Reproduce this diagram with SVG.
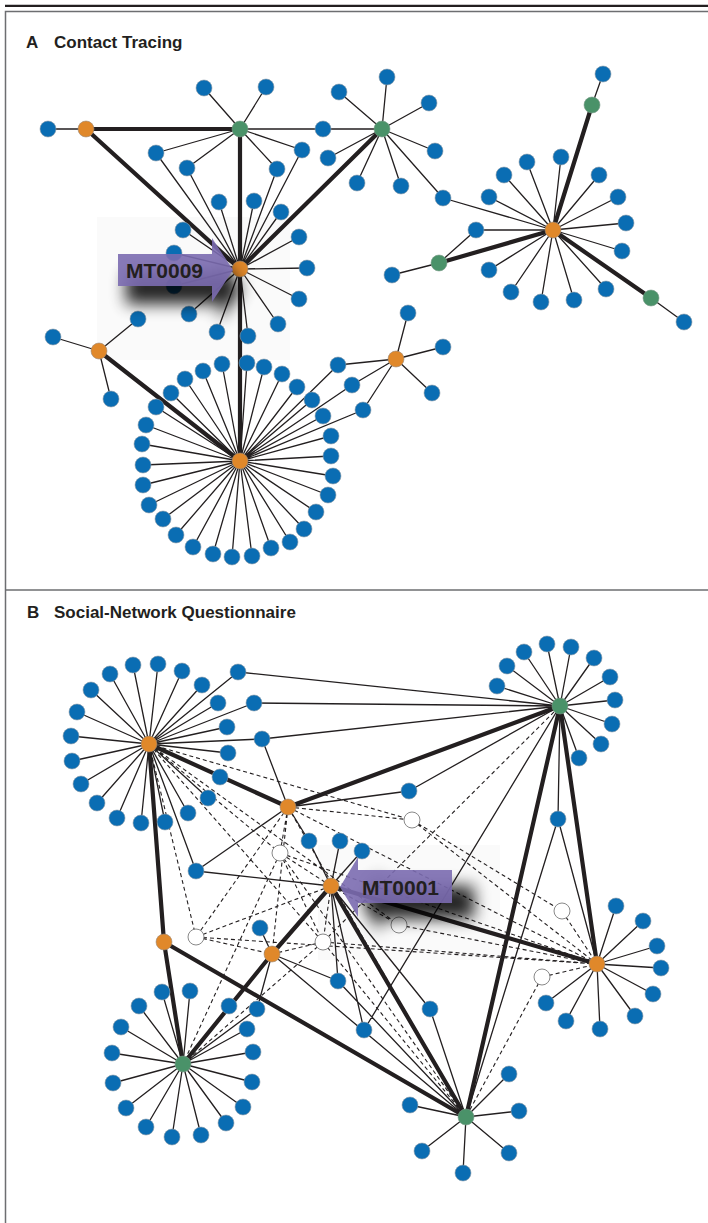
<svg xmlns="http://www.w3.org/2000/svg" width="708" height="1223" viewBox="0 0 708 1223">
<style>
.t{stroke:#231f20;stroke-width:1.3;fill:none}
.k{stroke:#231f20;stroke-width:4.2;fill:none}
.d{stroke:#231f20;stroke-width:1.1;stroke-dasharray:4 3;fill:none}
.b{fill:#0a6db3;stroke:#8d9aa6;stroke-width:.6}
.o{fill:#e0882a;stroke:#9a8a7a;stroke-width:.6}
.g{fill:#4a9269;stroke:#7a9a88;stroke-width:.6}
.h{fill:#fff;stroke:#7a7a7a;stroke-width:.9}
.ttl{font-family:"Liberation Sans",Arial,sans-serif;font-weight:bold;font-size:17px;fill:#231f20}
.lbl{font-family:"Liberation Sans",Arial,sans-serif;font-weight:bold;font-size:21px;fill:#231f20}
.arr{fill:#7b6bb0;opacity:.9}
.shd{fill:#000;opacity:.85;filter:url(#blur)}
</style>
<defs>
<filter id="blur" x="-60%" y="-80%" width="220%" height="260%"><feGaussianBlur stdDeviation="8"/></filter>
</defs>
<rect x="0" y="0" width="708" height="1223" fill="#fff"/>
<g id="frame">
<line x1="5" y1="5.8" x2="708" y2="5.8" stroke="#231f20" stroke-width="2.2"/>
<rect x="5.5" y="11.5" width="710" height="1220" fill="none" stroke="#6d6e71" stroke-width="1.5"/>
<line x1="5" y1="590" x2="708" y2="590" stroke="#6d6e71" stroke-width="1.5"/>
<rect x="97" y="217" width="193" height="143" fill="#fafafa"/>
<rect x="318" y="845" width="182" height="115" fill="#fafafa"/>
</g>
<g id="titles">
<text class="ttl" x="26" y="48">A</text>
<text class="ttl" x="54" y="48">Contact Tracing</text>
<text class="ttl" x="27" y="618">B</text>
<text class="ttl" x="54" y="618">Social-Network Questionnaire</text>
</g>
<g id="connectors">
<path class="t" d="M86,129L48,129
M240,129L204,88M240,129L266,87M240,129L323,129M240,129L156,153M240,129L187,168M240,129L277,169M240,129L302,150
M382,129L323,129M382,129L339,92M382,129L387,77M382,129L429,103M382,129L435,151M382,129L401,186M382,129L357,183M382,129L328,158M382,129L443,198
M240,269L156,153M240,269L187,168M240,269L277,169M240,269L302,150M240,269L219,202M240,269L254,201M240,269L281,212M240,269L183,230M240,269L299,237M240,269L174,253M240,269L307,268M240,269L174,286M240,269L299,299M240,269L189,314M240,269L217,332M240,269L248,336M240,269L278,324
M553,230L443,198M553,230L527,162M553,230L561,157M553,230L504,175M553,230L599,175M553,230L489,197M553,230L618,197M553,230L626,223M553,230L476,230M553,230L622,251M553,230L489,270M553,230L511,292M553,230L541,302M553,230L574,300M553,230L606,289
M592,105L603,74M439,263L476,230M439,263L392,275M651,298L684,322
M99,351L53,337M99,351L138,319M99,351L111,399
M396,359L408,313M396,359L443,347M396,359L432,393M396,359L338,365M396,359L352,385M396,359L363,410
M240,461L338,365M240,461L352,385M240,461L363,410
M240,461L222,364M240,461L247,363M240,461L264,367M240,461L282,374M240,461L297,387M240,461L312,400M240,461L323,416M240,461L331,436M240,461L331,456M240,461L333,476M240,461L328,495M240,461L316,512M240,461L304,529M240,461L290,542M240,461L271,548M240,461L252,556M240,461L232,557M240,461L213,554M240,461L193,547M240,461L176,535M240,461L163,519M240,461L149,505M240,461L143,485M240,461L143,465M240,461L142,444M240,461L146,425M240,461L156,407M240,461L171,393M240,461L185,379M240,461L203,371"/>
<path class="k" d="M86,129L240,129M86,129L240,269M240,129L240,269M382,129L240,269M240,269L240,461M99,351L240,461M553,230L592,105M553,230L439,263M553,230L651,298"/>
<path class="d" d="M149,744L280,853M149,744L412,820M149,744L196,937M149,744L399,925M149,744L323,942
M288,807L280,853M288,807L412,820M288,807L196,937M288,807L272,954M288,807L597,964M288,807L466,1117
M331,886L280,853M331,886L196,937M331,886L323,942M331,886L399,925
M280,853L323,942M280,853L183,1064M280,853L466,1117M280,853L597,964
M196,937L272,954M196,937L597,964
M323,942L272,954M323,942L560,706M323,942L466,1117M323,942L183,1064M323,942L597,964
M399,925L597,964M412,820L562,911M412,820L597,964M562,911L597,964M542,977L597,964M542,977L466,1117"/>
<path class="t" d="M149,744L133,665M149,744L158,664M149,744L182,671M149,744L110,674M149,744L202,685M149,744L91,690M149,744L238,672M149,744L218,703M149,744L254,703M149,744L77,712M149,744L227,727M149,744L71,736M149,744L262,739M149,744L228,753M149,744L72,761M149,744L81,784M149,744L208,798M149,744L97,803M149,744L188,813M149,744L117,818M149,744L141,823M149,744L165,822M149,744L196,871
M560,706L238,672M560,706L254,703M560,706L262,739M560,706L409,791M560,706L558,819M560,706L364,1030
M560,706L497,686M560,706L507,666M560,706L524,652M560,706L547,644M560,706L571,647M560,706L594,658M560,706L610,677M560,706L615,700M560,706L612,724M560,706L601,744M560,706L579,758
M288,807L262,739M288,807L409,791M288,807L196,871M288,807L309,841
M331,886L309,841M331,886L340,841M331,886L362,851M331,886L196,871M331,886L338,981M331,886L364,1030M331,886L430,1009
M272,954L260,928M272,954L338,981M272,954L257,1009M272,954L466,1117
M558,819L466,1117M558,819L597,964M338,981L466,1117M430,1009L466,1117
M183,1064L162,992M183,1064L190,991M183,1064L139,1006M183,1064L121,1027M183,1064L112,1053M183,1064L113,1083M183,1064L126,1108M183,1064L146,1127M183,1064L172,1137M183,1064L201,1135M183,1064L226,1123M183,1064L243,1107M183,1064L252,1082M183,1064L253,1052M183,1064L247,1029M183,1064L257,1009M183,1064L229,1006
M466,1117L410,1105M466,1117L509,1074M466,1117L519,1111M466,1117L509,1153M466,1117L463,1173M466,1117L422,1151
M597,964L616,906M597,964L643,921M597,964L657,946M597,964L661,968M597,964L653,994M597,964L635,1016M597,964L600,1029M597,964L566,1021M597,964L546,1003"/>
<path class="k" d="M149,744L288,807M288,807L560,706M149,744L164,942M164,942L183,1064M164,942L466,1117M331,886L272,954M272,954L183,1064M331,886L597,964M331,886L466,1117M560,706L466,1117M560,706L597,964"/>
</g>
<g id="nodes-A">
<g id="a1"><circle class="b" cx="48" cy="129" r="8"/></g>
<g id="a2"><circle class="b" cx="204" cy="88" r="8"/></g>
<g id="a3"><circle class="b" cx="266" cy="87" r="8"/></g>
<g id="a4"><circle class="b" cx="323" cy="129" r="8"/></g>
<g id="a5"><circle class="b" cx="339" cy="92" r="8"/></g>
<g id="a6"><circle class="b" cx="387" cy="77" r="8"/></g>
<g id="a7"><circle class="b" cx="429" cy="103" r="8"/></g>
<g id="a8"><circle class="b" cx="435" cy="151" r="8"/></g>
<g id="a9"><circle class="b" cx="401" cy="186" r="8"/></g>
<g id="a10"><circle class="b" cx="357" cy="183" r="8"/></g>
<g id="a11"><circle class="b" cx="328" cy="158" r="8"/></g>
<g id="a12"><circle class="b" cx="443" cy="198" r="8"/></g>
<g id="a13"><circle class="b" cx="156" cy="153" r="8"/></g>
<g id="a14"><circle class="b" cx="187" cy="168" r="8"/></g>
<g id="a15"><circle class="b" cx="277" cy="169" r="8"/></g>
<g id="a16"><circle class="b" cx="302" cy="150" r="8"/></g>
<g id="a17"><circle class="b" cx="219" cy="202" r="8"/></g>
<g id="a18"><circle class="b" cx="254" cy="201" r="8"/></g>
<g id="a19"><circle class="b" cx="281" cy="212" r="8"/></g>
<g id="a20"><circle class="b" cx="183" cy="230" r="8"/></g>
<g id="a21"><circle class="b" cx="299" cy="237" r="8"/></g>
<g id="a22"><circle class="b" cx="174" cy="253" r="8"/></g>
<g id="a23"><circle class="b" cx="307" cy="268" r="8"/></g>
<g id="a24"><circle class="b" cx="174" cy="286" r="8"/></g>
<g id="a25"><circle class="b" cx="299" cy="299" r="8"/></g>
<g id="a26"><circle class="b" cx="189" cy="314" r="8"/></g>
<g id="a27"><circle class="b" cx="217" cy="332" r="8"/></g>
<g id="a28"><circle class="b" cx="248" cy="336" r="8"/></g>
<g id="a29"><circle class="b" cx="278" cy="324" r="8"/></g>
<g id="a30"><circle class="b" cx="138" cy="319" r="8"/></g>
<g id="a31"><circle class="b" cx="53" cy="337" r="8"/></g>
<g id="a32"><circle class="b" cx="111" cy="399" r="8"/></g>
<g id="a33"><circle class="b" cx="527" cy="162" r="8"/></g>
<g id="a34"><circle class="b" cx="561" cy="157" r="8"/></g>
<g id="a35"><circle class="b" cx="504" cy="175" r="8"/></g>
<g id="a36"><circle class="b" cx="599" cy="175" r="8"/></g>
<g id="a37"><circle class="b" cx="489" cy="197" r="8"/></g>
<g id="a38"><circle class="b" cx="618" cy="197" r="8"/></g>
<g id="a39"><circle class="b" cx="626" cy="223" r="8"/></g>
<g id="a40"><circle class="b" cx="476" cy="230" r="8"/></g>
<g id="a41"><circle class="b" cx="622" cy="251" r="8"/></g>
<g id="a42"><circle class="b" cx="489" cy="270" r="8"/></g>
<g id="a43"><circle class="b" cx="511" cy="292" r="8"/></g>
<g id="a44"><circle class="b" cx="541" cy="302" r="8"/></g>
<g id="a45"><circle class="b" cx="574" cy="300" r="8"/></g>
<g id="a46"><circle class="b" cx="606" cy="289" r="8"/></g>
<g id="a47"><circle class="b" cx="603" cy="74" r="8"/></g>
<g id="a48"><circle class="b" cx="392" cy="275" r="8"/></g>
<g id="a49"><circle class="b" cx="684" cy="322" r="8"/></g>
<g id="a50"><circle class="b" cx="408" cy="313" r="8"/></g>
<g id="a51"><circle class="b" cx="443" cy="347" r="8"/></g>
<g id="a52"><circle class="b" cx="432" cy="393" r="8"/></g>
<g id="a53"><circle class="b" cx="338" cy="365" r="8"/></g>
<g id="a54"><circle class="b" cx="352" cy="385" r="8"/></g>
<g id="a55"><circle class="b" cx="363" cy="410" r="8"/></g>
<g id="r1"><circle class="b" cx="222" cy="364" r="8"/></g>
<g id="r2"><circle class="b" cx="247" cy="363" r="8"/></g>
<g id="r3"><circle class="b" cx="264" cy="367" r="8"/></g>
<g id="r4"><circle class="b" cx="282" cy="374" r="8"/></g>
<g id="r5"><circle class="b" cx="297" cy="387" r="8"/></g>
<g id="r6"><circle class="b" cx="312" cy="400" r="8"/></g>
<g id="r7"><circle class="b" cx="323" cy="416" r="8"/></g>
<g id="r8"><circle class="b" cx="331" cy="436" r="8"/></g>
<g id="r9"><circle class="b" cx="331" cy="456" r="8"/></g>
<g id="r10"><circle class="b" cx="333" cy="476" r="8"/></g>
<g id="r11"><circle class="b" cx="328" cy="495" r="8"/></g>
<g id="r12"><circle class="b" cx="316" cy="512" r="8"/></g>
<g id="r13"><circle class="b" cx="304" cy="529" r="8"/></g>
<g id="r14"><circle class="b" cx="290" cy="542" r="8"/></g>
<g id="r15"><circle class="b" cx="271" cy="548" r="8"/></g>
<g id="r16"><circle class="b" cx="252" cy="556" r="8"/></g>
<g id="r17"><circle class="b" cx="232" cy="557" r="8"/></g>
<g id="r18"><circle class="b" cx="213" cy="554" r="8"/></g>
<g id="r19"><circle class="b" cx="193" cy="547" r="8"/></g>
<g id="r20"><circle class="b" cx="176" cy="535" r="8"/></g>
<g id="r21"><circle class="b" cx="163" cy="519" r="8"/></g>
<g id="r22"><circle class="b" cx="149" cy="505" r="8"/></g>
<g id="r23"><circle class="b" cx="143" cy="485" r="8"/></g>
<g id="r24"><circle class="b" cx="143" cy="465" r="8"/></g>
<g id="r25"><circle class="b" cx="142" cy="444" r="8"/></g>
<g id="r26"><circle class="b" cx="146" cy="425" r="8"/></g>
<g id="r27"><circle class="b" cx="156" cy="407" r="8"/></g>
<g id="r28"><circle class="b" cx="171" cy="393" r="8"/></g>
<g id="r29"><circle class="b" cx="185" cy="379" r="8"/></g>
<g id="r30"><circle class="b" cx="203" cy="371" r="8"/></g>
<g id="O1"><circle class="o" cx="86" cy="129" r="8"/></g>
<g id="G1"><circle class="g" cx="240" cy="129" r="8"/></g>
<g id="G2"><circle class="g" cx="382" cy="129" r="8"/></g>
<g id="MT0009"><circle class="o" cx="240" cy="269" r="8"/></g>
<g id="O2"><circle class="o" cx="553" cy="230" r="8"/></g>
<g id="G3"><circle class="g" cx="592" cy="105" r="8"/></g>
<g id="G4"><circle class="g" cx="439" cy="263" r="8"/></g>
<g id="G5"><circle class="g" cx="651" cy="298" r="8"/></g>
<g id="O4"><circle class="o" cx="99" cy="351" r="8"/></g>
<g id="O5"><circle class="o" cx="396" cy="359" r="8"/></g>
<g id="O3"><circle class="o" cx="240" cy="461" r="8"/></g>
</g>
<g id="nodes-B">
<g id="b1"><circle class="b" cx="133" cy="665" r="8"/></g>
<g id="b2"><circle class="b" cx="158" cy="664" r="8"/></g>
<g id="b3"><circle class="b" cx="182" cy="671" r="8"/></g>
<g id="b4"><circle class="b" cx="110" cy="674" r="8"/></g>
<g id="b5"><circle class="b" cx="202" cy="685" r="8"/></g>
<g id="b6"><circle class="b" cx="91" cy="690" r="8"/></g>
<g id="b7"><circle class="b" cx="238" cy="672" r="8"/></g>
<g id="b8"><circle class="b" cx="218" cy="703" r="8"/></g>
<g id="b9"><circle class="b" cx="254" cy="703" r="8"/></g>
<g id="b10"><circle class="b" cx="77" cy="712" r="8"/></g>
<g id="b11"><circle class="b" cx="227" cy="727" r="8"/></g>
<g id="b12"><circle class="b" cx="71" cy="736" r="8"/></g>
<g id="b13"><circle class="b" cx="262" cy="739" r="8"/></g>
<g id="b14"><circle class="b" cx="228" cy="753" r="8"/></g>
<g id="b15"><circle class="b" cx="72" cy="761" r="8"/></g>
<g id="b16"><circle class="b" cx="220" cy="777" r="8"/></g>
<g id="b17"><circle class="b" cx="81" cy="784" r="8"/></g>
<g id="b18"><circle class="b" cx="208" cy="798" r="8"/></g>
<g id="b19"><circle class="b" cx="97" cy="803" r="8"/></g>
<g id="b20"><circle class="b" cx="188" cy="813" r="8"/></g>
<g id="b21"><circle class="b" cx="117" cy="818" r="8"/></g>
<g id="b22"><circle class="b" cx="141" cy="823" r="8"/></g>
<g id="b23"><circle class="b" cx="165" cy="822" r="8"/></g>
<g id="b24"><circle class="b" cx="196" cy="871" r="8"/></g>
<g id="b25"><circle class="b" cx="409" cy="791" r="8"/></g>
<g id="b26"><circle class="b" cx="558" cy="819" r="8"/></g>
<g id="b27"><circle class="b" cx="309" cy="841" r="8"/></g>
<g id="b28"><circle class="b" cx="340" cy="841" r="8"/></g>
<g id="b29"><circle class="b" cx="362" cy="851" r="8"/></g>
<g id="b30"><circle class="b" cx="260" cy="928" r="8"/></g>
<g id="b31"><circle class="b" cx="338" cy="981" r="8"/></g>
<g id="b32"><circle class="b" cx="364" cy="1030" r="8"/></g>
<g id="b33"><circle class="b" cx="430" cy="1009" r="8"/></g>
<g id="b34"><circle class="b" cx="257" cy="1009" r="8"/></g>
<g id="b35"><circle class="b" cx="229" cy="1006" r="8"/></g>
<g id="t1"><circle class="b" cx="497" cy="686" r="8"/></g>
<g id="t2"><circle class="b" cx="507" cy="666" r="8"/></g>
<g id="t3"><circle class="b" cx="524" cy="652" r="8"/></g>
<g id="t4"><circle class="b" cx="547" cy="644" r="8"/></g>
<g id="t5"><circle class="b" cx="571" cy="647" r="8"/></g>
<g id="t6"><circle class="b" cx="594" cy="658" r="8"/></g>
<g id="t7"><circle class="b" cx="610" cy="677" r="8"/></g>
<g id="t8"><circle class="b" cx="615" cy="700" r="8"/></g>
<g id="t9"><circle class="b" cx="612" cy="724" r="8"/></g>
<g id="t10"><circle class="b" cx="601" cy="744" r="8"/></g>
<g id="t11"><circle class="b" cx="579" cy="758" r="8"/></g>
<g id="l1"><circle class="b" cx="162" cy="992" r="8"/></g>
<g id="l2"><circle class="b" cx="190" cy="991" r="8"/></g>
<g id="l3"><circle class="b" cx="139" cy="1006" r="8"/></g>
<g id="l4"><circle class="b" cx="121" cy="1027" r="8"/></g>
<g id="l5"><circle class="b" cx="112" cy="1053" r="8"/></g>
<g id="l6"><circle class="b" cx="113" cy="1083" r="8"/></g>
<g id="l7"><circle class="b" cx="126" cy="1108" r="8"/></g>
<g id="l8"><circle class="b" cx="146" cy="1127" r="8"/></g>
<g id="l9"><circle class="b" cx="172" cy="1137" r="8"/></g>
<g id="l10"><circle class="b" cx="201" cy="1135" r="8"/></g>
<g id="l11"><circle class="b" cx="226" cy="1123" r="8"/></g>
<g id="l12"><circle class="b" cx="243" cy="1107" r="8"/></g>
<g id="l13"><circle class="b" cx="252" cy="1082" r="8"/></g>
<g id="l14"><circle class="b" cx="253" cy="1052" r="8"/></g>
<g id="l15"><circle class="b" cx="247" cy="1029" r="8"/></g>
<g id="m1"><circle class="b" cx="410" cy="1105" r="8"/></g>
<g id="m2"><circle class="b" cx="509" cy="1074" r="8"/></g>
<g id="m3"><circle class="b" cx="519" cy="1111" r="8"/></g>
<g id="m4"><circle class="b" cx="509" cy="1153" r="8"/></g>
<g id="m5"><circle class="b" cx="463" cy="1173" r="8"/></g>
<g id="m6"><circle class="b" cx="422" cy="1151" r="8"/></g>
<g id="n1"><circle class="b" cx="616" cy="906" r="8"/></g>
<g id="n2"><circle class="b" cx="643" cy="921" r="8"/></g>
<g id="n3"><circle class="b" cx="657" cy="946" r="8"/></g>
<g id="n4"><circle class="b" cx="661" cy="968" r="8"/></g>
<g id="n5"><circle class="b" cx="653" cy="994" r="8"/></g>
<g id="n6"><circle class="b" cx="635" cy="1016" r="8"/></g>
<g id="n7"><circle class="b" cx="600" cy="1029" r="8"/></g>
<g id="n8"><circle class="b" cx="566" cy="1021" r="8"/></g>
<g id="n9"><circle class="b" cx="546" cy="1003" r="8"/></g>
<g id="H1"><circle class="h" cx="280" cy="853" r="8"/></g>
<g id="H2"><circle class="h" cx="412" cy="820" r="8"/></g>
<g id="H3"><circle class="h" cx="196" cy="937" r="8"/></g>
<g id="H4"><circle class="h" cx="323" cy="942" r="8"/></g>
<g id="H5"><circle class="h" cx="399" cy="925" r="8"/></g>
<g id="H6"><circle class="h" cx="562" cy="911" r="8"/></g>
<g id="H7"><circle class="h" cx="542" cy="977" r="8"/></g>
<g id="B1"><circle class="o" cx="149" cy="744" r="8"/></g>
<g id="B2"><circle class="o" cx="288" cy="807" r="8"/></g>
<g id="MT0001"><circle class="o" cx="331" cy="886" r="8"/></g>
<g id="B4"><circle class="o" cx="164" cy="942" r="8"/></g>
<g id="B5"><circle class="o" cx="272" cy="954" r="8"/></g>
<g id="B6"><circle class="o" cx="597" cy="964" r="8"/></g>
<g id="GT"><circle class="g" cx="560" cy="706" r="8"/></g>
<g id="GL"><circle class="g" cx="183" cy="1064" r="8"/></g>
<g id="GB"><circle class="g" cx="466" cy="1117" r="8"/></g>
</g>
<g id="label-MT0009">
<polygon class="shd" points="126,272 220,272 220,258 242,290 220,320 220,304 126,304"/>
<polygon class="arr" points="118,254 212,254 212,238 233,270 212,302 212,286 118,286"/>
<text class="lbl" x="126" y="278">MT0009</text>
</g>
<g id="label-MT0001">
<polygon class="shd" points="474,886 380,886 380,873 362,903 380,933 380,919 474,919"/>
<polygon class="arr" points="452,870 358,870 358,857 340,887 358,917 358,903 452,903"/>
<text class="lbl" x="362" y="895">MT0001</text>
</g>
</svg>
